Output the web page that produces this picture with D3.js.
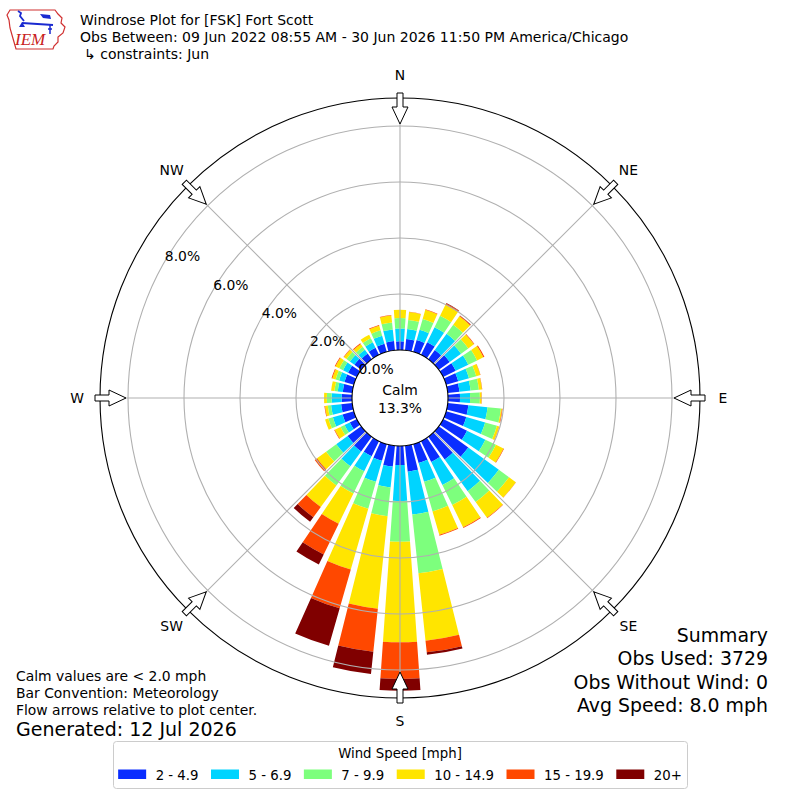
<!DOCTYPE html>
<html>
<head>
<meta charset="utf-8">
<script src="https://cdn.jsdelivr.net/npm/d3@7"></script>
<style>
  body { margin: 0; background: #fff; }
  svg text { font-family: "DejaVu Sans", sans-serif; fill: #000; }
</style>
</head>
<body>
<svg id="windrose" width="800" height="800"></svg>
<script>
// direction bins (degrees, meteorology convention)
var directions = [0, 10, 20, 30, 40, 50, 60, 70, 80, 90, 100, 110, 120, 130, 140, 150, 160, 170,
  180, 190, 200, 210, 220, 230, 240, 250, 260, 270, 280, 290, 300, 310, 320, 330, 340, 350];

var speedBins = ["2 - 4.9", "5 - 6.9", "7 - 9.9", "10 - 14.9", "15 - 19.9", "20+"];

// percent of observations per direction, one array per speed bin
var spd2to5 = [0.31, 0.40, 0.44, 0.50, 0.40, 0.48, 0.50, 0.45, 0.42, 0.43, 0.74, 0.75, 0.95, 1.30, 1.00, 0.83, 0.70, 0.93,
  0.68, 0.75, 0.62, 0.60, 0.65, 0.60, 0.28, 0.42, 0.40, 0.37, 0.34, 0.35, 0.35, 0.30, 0.25, 0.28, 0.30, 0.33];
var spd5to7 = [0.46, 0.36, 0.38, 0.60, 0.72, 0.50, 0.50, 0.40, 0.40, 0.36, 0.69, 0.70, 0.73, 1.35, 1.40, 0.91, 0.70, 1.54,
  1.28, 0.75, 0.78, 0.60, 0.65, 0.50, 0.21, 0.36, 0.36, 0.36, 0.18, 0.20, 0.20, 0.20, 0.17, 0.22, 0.30, 0.42];
var spd7to10 = [0.37, 0.33, 0.40, 0.45, 0.40, 0.32, 0.35, 0.27, 0.30, 0.35, 0.48, 0.44, 0.42, 0.45, 0.48, 0.80, 1.10, 2.11,
  1.46, 1.03, 1.00, 0.88, 0.85, 0.45, 0.16, 0.17, 0.12, 0.17, 0.12, 0.13, 0.15, 0.15, 0.13, 0.16, 0.20, 0.25];
var spd10to15 = [0.30, 0.28, 0.34, 0.44, 0.37, 0.25, 0.25, 0.15, 0.11, 0.06, 0.04, 0.08, 0.30, 0.30, 0.69, 0.88, 0.87, 2.42,
  3.59, 3.32, 2.26, 1.20, 0.95, 0.40, 0.23, 0.12, 0.10, 0.10, 0.12, 0.12, 0.15, 0.11, 0.12, 0.14, 0.17, 0.25];
var spd15to20 = [0.00, 0.01, 0.02, 0.05, 0.03, 0.02, 0.04, 0.01, 0.01, 0.01, 0.02, 0.01, 0.02, 0.01, 0.02, 0.03, 0.03, 0.42,
  1.31, 1.55, 1.44, 1.22, 0.45, 0.10, 0.02, 0.00, 0.02, 0.00, 0.00, 0.03, 0.03, 0.02, 0.03, 0.00, 0.03, 0.02];
var spd20up = [0.00, 0.00, 0.00, 0.02, 0.01, 0.00, 0.00, 0.00, 0.00, 0.00, 0.00, 0.00, 0.00, 0.00, 0.00, 0.00, 0.00, 0.09,
  0.42, 0.80, 1.39, 0.40, 0.20, 0.00, 0.00, 0.00, 0.00, 0.00, 0.00, 0.00, 0.00, 0.00, 0.00, 0.00, 0.00, 0.00];

var calmPct = 13.3;
var rTicks = [0, 2, 4, 6, 8];
var compassLabels = ["N", "NE", "E", "SE", "S", "SW", "W", "NW"];
var compassAngles = [0, 45, 90, 135, 180, 225, 270, 315];

var titleLines = ["Windrose Plot for [FSK] Fort Scott",
  "Obs Between: 09 Jun 2022 08:55 AM - 30 Jun 2026 11:50 PM America/Chicago",
  "\u21b3 constraints: Jun"];
var noteLines = ["Calm values are < 2.0 mph", "Bar Convention: Meteorology",
  "Flow arrows relative to plot center."];
var summaryLines = ["Summary", "Obs Used: 3729", "Obs Without Wind: 0", "Avg Speed: 8.0 mph"];
var generatedText = "Generated: 12 Jul 2026";

var binColors = ["#0a2dff", "#00d4ff", "#7dff7d", "#ffe500", "#ff4800", "#800000"];

var svg = d3.select("#windrose");
var cx = 400, cy = 398;

// radial scale: calm circle is 0%
var r = d3.scaleLinear().domain([0, 9]).range([48, 300]);
var rad = function (deg) { return deg * Math.PI / 180; };

// stacked table
var keys = ["b0", "b1", "b2", "b3", "b4", "b5"];
var series = [spd2to5, spd5to7, spd7to10, spd10to15, spd15to20, spd20up];
var table = directions.map(function (d, i) {
  var row = { dir: d };
  keys.forEach(function (k, j) { row[k] = series[j][i]; });
  return row;
});
var stacked = d3.stack().keys(keys)(table);

var plot = svg.append("g").attr("transform", "translate(" + cx + "," + cy + ")");

var arc = d3.arc()
  .innerRadius(function (d) { return r(d[0]); })
  .outerRadius(function (d) { return r(d[1]); })
  .startAngle(function (d) { return rad(d.data.dir - 4); })
  .endAngle(function (d) { return rad(d.data.dir + 4); });

plot.selectAll("g.layer")
  .data(stacked)
  .enter().append("g")
  .attr("class", "layer")
  .attr("fill", function (d, i) { return binColors[i]; })
  .selectAll("path")
  .data(function (d) { return d.filter(function (s) { return s[1] - s[0] > 0.001; }); })
  .enter().append("path")
  .attr("d", arc);

// grid on top of the bars
plot.selectAll("circle.grid")
  .data(rTicks.slice(1))
  .enter().append("circle")
  .attr("class", "grid")
  .attr("r", function (d) { return r(d); })
  .attr("fill", "none")
  .attr("stroke", "#b0b0b0")
  .attr("stroke-width", 1.1);

plot.selectAll("line.spoke")
  .data(compassAngles)
  .enter().append("line")
  .attr("class", "spoke")
  .attr("x1", 0).attr("y1", 0)
  .attr("x2", function (d) { return r(9) * Math.sin(rad(d)); })
  .attr("y2", function (d) { return -r(9) * Math.cos(rad(d)); })
  .attr("stroke", "#b0b0b0")
  .attr("stroke-width", 1.1);

plot.append("circle")
  .attr("r", r(9))
  .attr("fill", "none")
  .attr("stroke", "#000")
  .attr("stroke-width", 1.1);

// flow arrows
var arrowPts = [[-3, -305], [3, -305], [3, -291], [8, -291], [0, -274], [-8, -291], [-3, -291]];
plot.selectAll("polygon.arrow")
  .data(compassAngles)
  .enter().append("polygon")
  .attr("class", "arrow")
  .attr("points", arrowPts.map(function (p) { return p.join(","); }).join(" "))
  .attr("transform", function (d) { return "rotate(" + d + ")"; })
  .attr("fill", "#fff")
  .attr("stroke", "#000")
  .attr("stroke-width", 1);

plot.selectAll("text.compass")
  .data(compassLabels)
  .enter().append("text")
  .attr("class", "compass")
  .attr("x", function (d, i) { return 323 * Math.sin(rad(compassAngles[i])); })
  .attr("y", function (d, i) { return -323 * Math.cos(rad(compassAngles[i])); })
  .attr("dy", "0.36em")
  .attr("text-anchor", "middle")
  .style("font-size", "13.9px")
  .text(function (d) { return d; });

// calm circle
plot.append("circle")
  .attr("r", r(0))
  .attr("fill", "#fff")
  .attr("stroke", "#000")
  .attr("stroke-width", 1.1);

plot.append("text")
  .attr("x", 0).attr("y", -3)
  .attr("text-anchor", "middle")
  .style("font-size", "13.9px")
  .text("Calm");
plot.append("text")
  .attr("x", 0).attr("y", 15)
  .attr("text-anchor", "middle")
  .style("font-size", "13.9px")
  .text(calmPct.toFixed(1) + "%");

// radial labels along ~300 deg
var labDir = [-0.864, -0.504];
plot.selectAll("text.rlab")
  .data(rTicks)
  .enter().append("text")
  .attr("class", "rlab")
  .attr("x", function (d) { return r(d) * labDir[0] + 17.5; })
  .attr("y", function (d) { return r(d) * labDir[1] - 4.5; })
  .attr("dy", "0.36em")
  .attr("text-anchor", "middle")
  .style("font-size", "13.9px")
  .text(function (d) { return d3.format(".1f")(d) + "%"; });

// logo
var logo = svg.append("g");
logo.append("path")
  .attr("d", "M10,10 L55,10 L58,14 L62,18 L61,23 L65,27 L63,33 L58,37 L58,42 L54,46 L53,49 L16,49 L14,42 L12,35 L10,28 L9,20 L7,15 Z")
  .attr("fill", "#fff").attr("stroke", "#d03030").attr("stroke-width", 1.2);
logo.append("line").attr("x1", 22).attr("y1", 23).attr("x2", 53).attr("y2", 25)
  .attr("stroke", "#1a2ad0").attr("stroke-width", 2.2);
logo.append("path").attr("d", "M18,11 L21,13 L20,16 L24,21")
  .attr("fill", "none").attr("stroke", "#1a2ad0").attr("stroke-width", 1.8);
logo.append("path").attr("d", "M19,27 L22,22 L25,27 Z").attr("fill", "#1a2ad0");
logo.append("path").attr("d", "M40,14 L50,15 L51,19 L43,18 Z").attr("fill", "#1a2ad0");
logo.append("path").attr("d", "M50,25 L50,32 M48,29 L52,29 M49,33 L51,33")
  .attr("fill", "none").attr("stroke", "#1a2ad0").attr("stroke-width", 1.5);
logo.append("text")
  .attr("x", 15).attr("y", 45)
  .style("font-family", "'Liberation Serif', serif")
  .style("font-style", "italic")
  .style("font-size", "17px")
  .style("fill", "#c82020")
  .text("IEM");

// titles
svg.selectAll("text.title")
  .data(titleLines)
  .enter().append("text")
  .attr("class", "title")
  .attr("x", function (d, i) { return i === 2 ? 84 : 80; })
  .attr("y", function (d, i) { return 25 + i * 17; })
  .style("font-size", "14px")
  .text(function (d) { return d; });

// notes bottom left
svg.selectAll("text.note")
  .data(noteLines)
  .enter().append("text")
  .attr("class", "note")
  .attr("x", 16)
  .attr("y", function (d, i) { return 681 + i * 16.8; })
  .style("font-size", "13.9px")
  .text(function (d) { return d; });

svg.append("text")
  .attr("x", 16).attr("y", 736)
  .style("font-size", "19px")
  .text(generatedText);

svg.selectAll("text.summary")
  .data(summaryLines)
  .enter().append("text")
  .attr("class", "summary")
  .attr("x", 768)
  .attr("y", function (d, i) { return 642 + i * 23.3; })
  .attr("text-anchor", "end")
  .style("font-size", "18.9px")
  .text(function (d) { return d; });

// legend
var legend = svg.append("g");
legend.append("rect")
  .attr("x", 113.5).attr("y", 741.5)
  .attr("width", 574).attr("height", 47)
  .attr("rx", 3)
  .attr("fill", "#fff")
  .attr("stroke", "#cccccc");
legend.append("text")
  .attr("x", 400).attr("y", 758)
  .attr("text-anchor", "middle")
  .style("font-size", "13.3px")
  .text("Wind Speed [mph]");

var handleW = 28, textPad = 9.5, colSpace = 12.5;
var items = legend.selectAll("g.item")
  .data(speedBins)
  .enter().append("g")
  .attr("class", "item");
items.append("rect")
  .attr("y", 769.5).attr("width", handleW).attr("height", 9.5)
  .attr("fill", function (d, i) { return binColors[i]; });
items.append("text")
  .attr("x", handleW + textPad).attr("y", 779.5)
  .style("font-size", "13.3px")
  .text(function (d) { return d; });

var widths = [];
items.select("text").each(function () { widths.push(this.getComputedTextLength()); });
var total = d3.sum(widths) + speedBins.length * (handleW + textPad) + (speedBins.length - 1) * colSpace;
var xPos = 400 - total / 2;
items.each(function (d, i) {
  d3.select(this).attr("transform", "translate(" + xPos + ",0)");
  xPos += handleW + textPad + widths[i] + colSpace;
});
</script>
</body>
</html>
